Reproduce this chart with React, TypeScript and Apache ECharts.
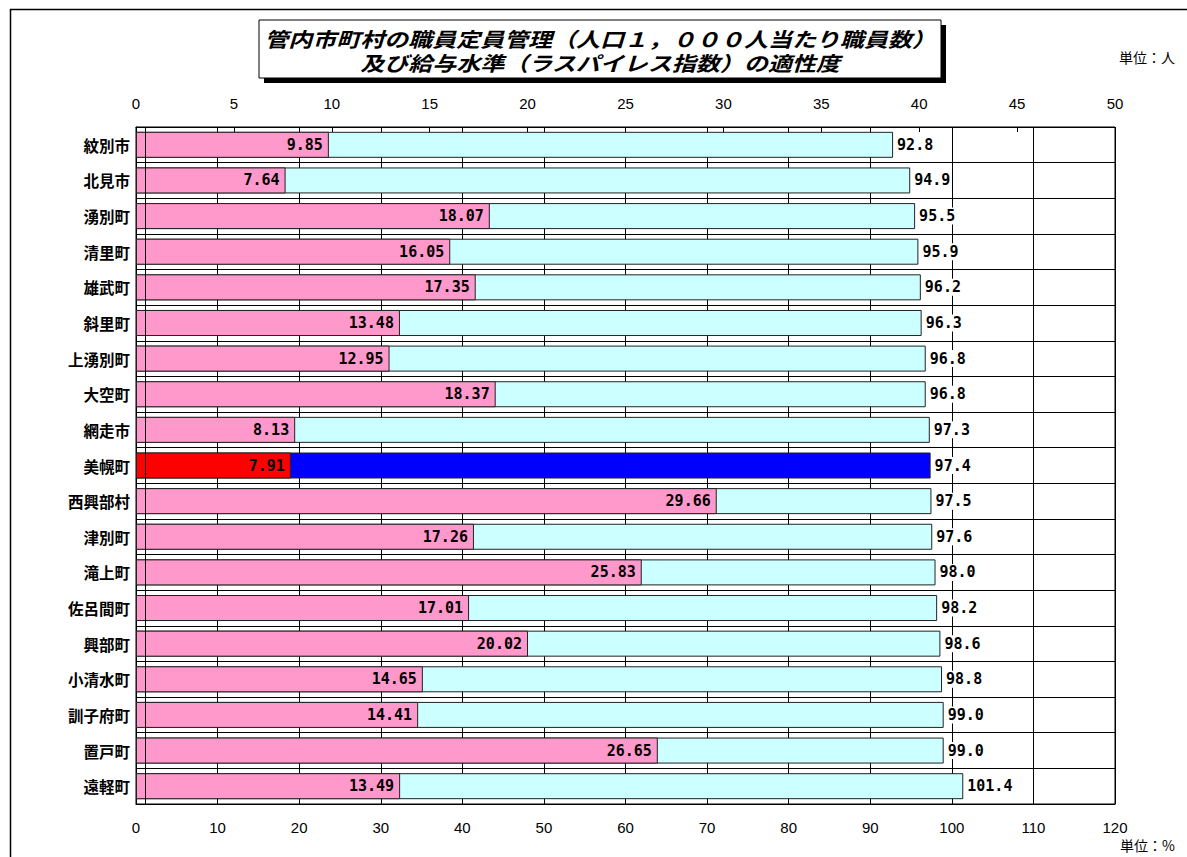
import React, { useEffect, useRef } from "react";
import * as echarts from "echarts";

// Municipalities, top to bottom
const categories = [
  "紋別市", "北見市", "湧別町", "清里町", "雄武町", "斜里町", "上湧別町", "大空町", "網走市",
  "美幌町", "西興部村", "津別町", "滝上町", "佐呂間町", "興部町", "小清水町", "訓子府町", "置戸町", "遠軽町",
];

// Staff per 1,000 residents (top axis, 人)
const staffPer1000 = [
  9.85, 7.64, 18.07, 16.05, 17.35, 13.48, 12.95, 18.37, 8.13,
  7.91, 29.66, 17.26, 25.83, 17.01, 20.02, 14.65, 14.41, 26.65, 13.49,
];

// Laspeyres index (bottom axis, %)
const laspeyres = [
  92.8, 94.9, 95.5, 95.9, 96.2, 96.3, 96.8, 96.8, 97.3,
  97.4, 97.5, 97.6, 98.0, 98.2, 98.6, 98.8, 99.0, 99.0, 101.4,
];

const highlighted = "美幌町";

const titleLines = [
  "管内市町村の職員定員管理（人口１，０００人当たり職員数）",
  "及び給与水準（ラスパイレス指数）の適性度",
];

const PINK = "#FF99CC";
const CYAN = "#CCFFFF";
const RED = "#FF0000";
const BLUE = "#0000FF";

const CJK = "'Noto Sans CJK JP', sans-serif";
const SANS = "'Liberation Sans', Arial, sans-serif";
const MONO = "'DejaVu Sans Mono', monospace";

const titleStyle = (text: string) => ({
  text,
  align: "center",
  verticalAlign: "middle",
  fill: "#000",
  fontFamily: CJK,
  fontWeight: "bold",
  fontStyle: "italic",
  fontSize: 20,
});

export default function App() {
  const ref = useRef<HTMLDivElement>(null);

  useEffect(() => {
    if (!ref.current) return;
    const chart = echarts.init(ref.current, undefined, { renderer: "svg" });

    const staffData = staffPer1000.map((v, i) =>
      categories[i] === highlighted ? { value: v, itemStyle: { color: RED } } : v
    );
    const indexData = laspeyres.map((v, i) =>
      categories[i] === highlighted ? { value: v, itemStyle: { color: BLUE } } : v
    );

    chart.setOption({
      animation: false,
      backgroundColor: "#fff",
      grid: {
        left: 136,
        right: 72,
        top: 127,
        bottom: 53,
        show: true,
        borderColor: "#000",
        borderWidth: 1,
        backgroundColor: "transparent",
      },
      xAxis: [
        {
          type: "value",
          position: "bottom",
          min: 0,
          max: 120,
          interval: 10,
          axisLine: { show: true, lineStyle: { color: "#000", width: 1 } },
          axisTick: { show: false },
          axisLabel: { color: "#000", fontFamily: SANS, fontSize: 15, margin: 16 },
          splitLine: { show: true, lineStyle: { color: "#000", width: 1 } },
        },
        {
          type: "value",
          position: "top",
          min: 0,
          max: 50,
          interval: 5,
          axisLine: { show: true, lineStyle: { color: "#000", width: 1 } },
          axisTick: { show: true, inside: true, length: 5, lineStyle: { color: "#000" } },
          axisLabel: { color: "#000", fontFamily: SANS, fontSize: 15, margin: 16 },
          splitLine: { show: false },
        },
      ],
      yAxis: {
        type: "category",
        data: categories,
        inverse: true,
        axisLine: { show: true, lineStyle: { color: "#000", width: 1 } },
        axisTick: { show: false },
        axisLabel: {
          color: "#000",
          fontFamily: CJK,
          fontWeight: "bold",
          fontSize: 15.5,
          margin: 6,
        },
        splitLine: { show: true, lineStyle: { color: "#000", width: 1 } },
      },
      series: [
        {
          name: "ラスパイレス指数",
          type: "bar",
          xAxisIndex: 0,
          data: indexData,
          barWidth: 26,
          barGap: "-100%",
          itemStyle: { color: CYAN, borderColor: "#222", borderWidth: 1 },
          label: {
            show: true,
            position: "right",
            distance: 3,
            color: "#000",
            fontFamily: MONO,
            fontWeight: "bold",
            fontSize: 15,
            backgroundColor: "#fff",
            padding: [1, 1],
            formatter: (p: any) => Number(p.value).toFixed(1),
          },
          markLine: {
            silent: true,
            symbol: "none",
            label: { show: false },
            lineStyle: { color: "#000", type: "solid", width: 1 },
            data: [{ xAxis: 1.1 }],
          },
          z: 2,
        },
        {
          name: "人口1,000人当たり職員数",
          type: "bar",
          xAxisIndex: 1,
          data: staffData,
          barWidth: 26,
          barGap: "-100%",
          itemStyle: { color: PINK, borderColor: "#222", borderWidth: 1 },
          label: {
            show: true,
            position: "insideRight",
            distance: 6,
            color: "#000",
            fontFamily: MONO,
            fontWeight: "bold",
            fontSize: 15,
            formatter: (p: any) => Number(p.value).toFixed(2),
          },
          z: 3,
        },
      ],
      graphic: [
        // outer frame
        { type: "line", shape: { x1: 10.5, y1: 9, x2: 10.5, y2: 857 }, style: { stroke: "#000", lineWidth: 1.5 } },
        { type: "line", shape: { x1: 10, y1: 9.5, x2: 1187, y2: 9.5 }, style: { stroke: "#000", lineWidth: 1.5 } },
        // title box with drop shadow
        { type: "rect", shape: { x: 264, y: 25, width: 682, height: 58 }, style: { fill: "#000" }, z: 10 },
        {
          type: "rect",
          shape: { x: 259, y: 20, width: 682, height: 58 },
          style: { fill: "#fff", stroke: "#000", lineWidth: 1 },
          z: 11,
        },
        { type: "text", x: 600, y: 38, scaleX: 1.2, z: 12, style: titleStyle(titleLines[0]) },
        { type: "text", x: 600, y: 62, scaleX: 1.2, z: 12, style: titleStyle(titleLines[1]) },
        {
          type: "text",
          x: 1175,
          y: 57,
          style: {
            text: "単位：人",
            align: "right",
            verticalAlign: "middle",
            fill: "#000",
            fontFamily: CJK,
            fontSize: 14,
          },
        },
        {
          type: "text",
          x: 1175,
          y: 845,
          style: {
            text: "単位：%",
            align: "right",
            verticalAlign: "middle",
            fill: "#000",
            fontFamily: CJK,
            fontSize: 14,
          },
        },
      ],
    });

    return () => chart.dispose();
  }, []);

  return (
    <div
      ref={ref}
      style={{ position: "fixed", left: 0, top: 0, width: 1187, height: 857, background: "#fff" }}
    />
  );
}
